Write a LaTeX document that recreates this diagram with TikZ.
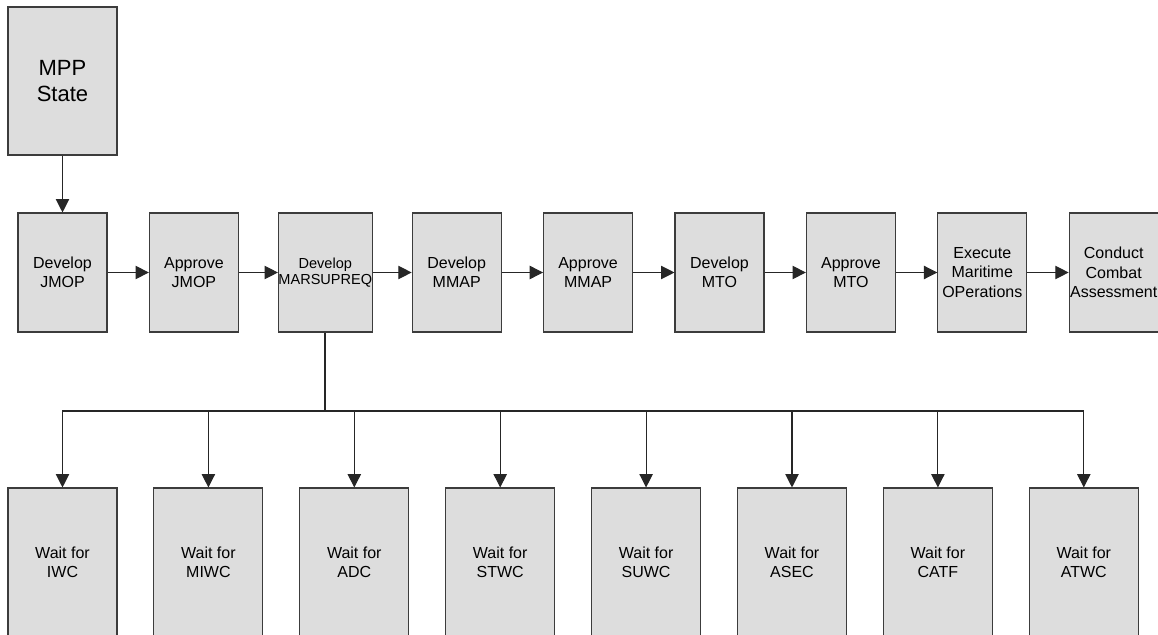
\documentclass[tikz,border=0pt]{standalone}
\usepackage{fontspec}
\setmainfont{Liberation Sans}
\usetikzlibrary{arrows.meta}
\definecolor{boxfill}{RGB}{221,221,221}
\definecolor{boxline}{RGB}{60,60,60}
\begin{document}
\begin{tikzpicture}[x=0.75pt,y=-0.75pt,
  box/.style={draw=boxline,line width=0.8pt,fill=boxfill,inner sep=0pt,align=center,
    font=\fontsize{12}{14.5}\selectfont},
  topbox/.style={box,minimum width=66.75pt,minimum height=89.25pt},
  bigbox/.style={box,minimum width=81.75pt,minimum height=111pt},
  arr/.style={draw=black!85,line width=0.8pt,-{Triangle[length=10pt,width=10pt]}},
  conn/.style={draw=black!85,line width=0.8pt}]
\useasboundingbox (0,0) rectangle (1158,635);
% MPP state
\node[bigbox,font=\fontsize{16.5}{19.5}\selectfont] (mpp) at (62.5,81) {MPP\\State};
% top row
\node[topbox] (t0) at (62.5,272.5) {Develop\\JMOP};
\node[topbox] (t1) at (193.9,272.5) {Approve\\JMOP};
\node[topbox,font=\fontsize{10.9}{12.5}\selectfont] (t2) at (325.3,272.5) {Develop\\MARSUPREQ};
\node[topbox] (t3) at (456.7,272.5) {Develop\\MMAP};
\node[topbox] (t4) at (588.1,272.5) {Approve\\MMAP};
\node[topbox] (t5) at (719.5,272.5) {Develop\\MTO};
\node[topbox] (t6) at (850.9,272.5) {Approve\\MTO};
\node[topbox] (t7) at (982.3,272.5) {Execute\\Maritime\\OPerations};
\node[topbox] (t8) at (1113.7,272.5) {Conduct\\Combat\\Assessment};
% bottom row
\node[bigbox] (w0) at (62.5,562) {Wait for\\IWC};
\node[bigbox] (w1) at (208.4,562) {Wait for\\MIWC};
\node[bigbox] (w2) at (354.3,562) {Wait for\\ADC};
\node[bigbox] (w3) at (500.2,562) {Wait for\\STWC};
\node[bigbox] (w4) at (646.1,562) {Wait for\\SUWC};
\node[bigbox] (w5) at (792.0,562) {Wait for\\ASEC};
\node[bigbox] (w6) at (937.9,562) {Wait for\\CATF};
\node[bigbox] (w7) at (1083.8,562) {Wait for\\ATWC};
% connectors
\draw[arr] (mpp) -- (t0);
\foreach \a/\b in {t0/t1,t1/t2,t2/t3,t3/t4,t4/t5,t5/t6,t6/t7,t7/t8}
  \draw[arr] (\a) -- (\b);
\coordinate (bus) at (325.3,411);
\draw[conn,line width=1.5pt] (t2.south) -- (bus);
\foreach \w in {w0,w1,w2,w3,w4,w5,w6,w7}
  \draw[arr] (bus) -| (\w.north);
\end{tikzpicture}
\end{document}
